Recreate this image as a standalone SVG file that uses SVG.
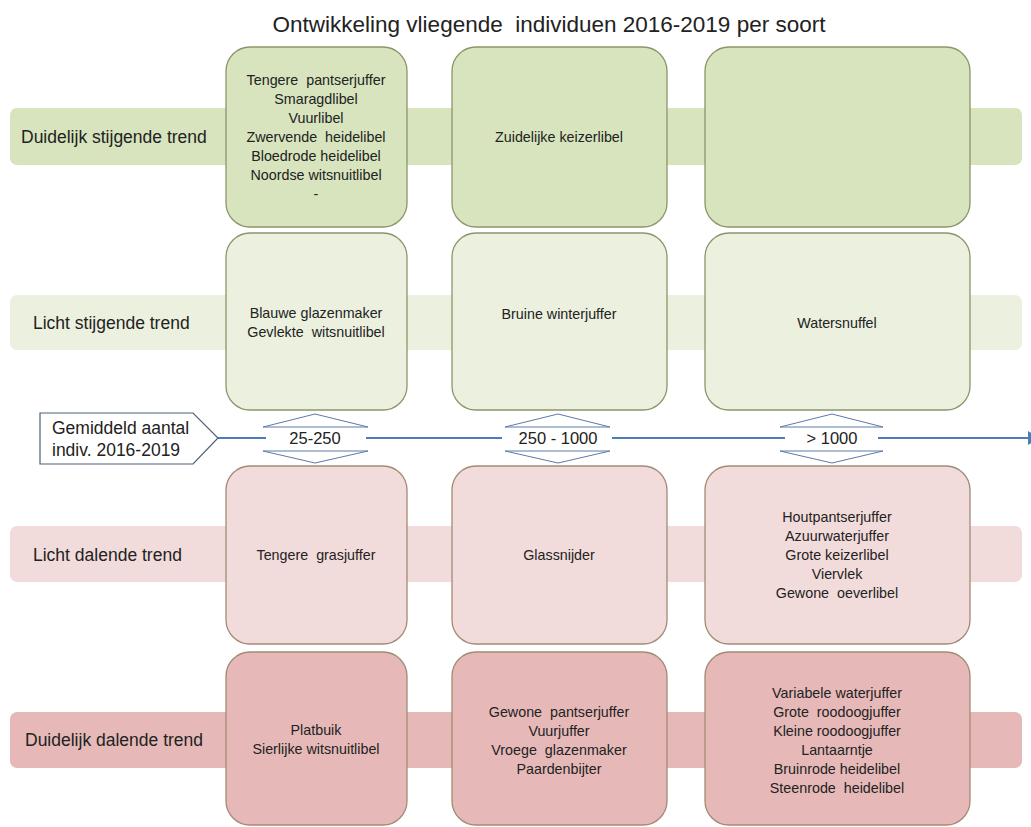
<svg xmlns="http://www.w3.org/2000/svg" width="1031" height="827" viewBox="0 0 1031 827">
<style>
text{font-family:"Liberation Sans",Arial,sans-serif;fill:#222;white-space:pre;}
.title{font-size:22.5px;text-anchor:middle;}
.lab{font-size:17.5px;}
.t{font-size:14.3px;text-anchor:middle;}
.hx{font-size:16.5px;text-anchor:middle;}
.band{stroke:none;}
.g1{fill:#d7e4bd;}
.g2{fill:#ebf1de;}
.r1{fill:#f2dcdb;}
.r2{fill:#e6b9b8;}
.bx{stroke-width:1.3;}
.bg{stroke:#8c956a;}
.br{stroke:#a28a74;}
.tri{fill:#fff;stroke:#5a7ba6;stroke-width:1;}
.cut{fill:#fff;stroke:none;}
</style>
<rect width="1031" height="827" fill="#fff"/>
<text class="title" x="549" y="32">Ontwikkeling vliegende  individuen 2016-2019 per soort</text>

<g id="bands">
<rect class="band g1" x="10" y="108" width="1012" height="57" rx="7"/>
<rect class="band g2" x="10" y="295" width="1012" height="55" rx="7"/>
<rect class="band r1" x="10" y="526" width="1012" height="56" rx="7"/>
<rect class="band r2" x="10" y="712" width="1012" height="56" rx="7"/>
</g>

<g id="row-labels">
<text class="lab" x="21" y="143">Duidelijk stijgende trend</text>
<text class="lab" x="33" y="329">Licht stijgende trend</text>
<text class="lab" x="33" y="561">Licht dalende trend</text>
<text class="lab" x="25" y="746">Duidelijk dalende trend</text>
</g>

<g id="connectors">
<line x1="218" y1="438" x2="1031" y2="438" stroke="#4a7ebb" stroke-width="2"/>
<polygon points="1028,431 1040,438 1028,445" fill="#4a7ebb"/>
</g>

<g id="axis-label">
<polygon points="40,413 193,413 218,438 193,464 40,464" fill="#fff" stroke="#4d6078" stroke-width="1.2"/>
<text class="lab" x="52" y="434">Gemiddeld aantal</text>
<text class="lab" x="52" y="456">indiv. 2016-2019</text>
</g>

<g id="class-25-250">
<rect class="cut" x="266" y="428" width="100" height="22"/>
<polygon class="tri" points="263,427 315,414 368,427"/>
<polygon class="tri" points="263,451 315,463 368,451"/>
<text class="hx" x="315" y="444">25-250</text>
</g>
<g id="class-250-1000">
<rect class="cut" x="502" y="428" width="110" height="22"/>
<polygon class="tri" points="505,427 558,414 610,427"/>
<polygon class="tri" points="505,451 558,463 610,451"/>
<text class="hx" x="558" y="444">250 - 1000</text>
</g>
<g id="class-1000">
<rect class="cut" x="785" y="428" width="93" height="22"/>
<polygon class="tri" points="780,427 832,414 883,427"/>
<polygon class="tri" points="780,451 832,463 883,451"/>
<text class="hx" x="832" y="444">&gt; 1000</text>
</g>

<g id="box-r1c1">
<rect class="bx g1 bg" x="226" y="47" width="181" height="180" rx="24"/>
<text class="t" x="316" y="85">Tengere  pantserjuffer</text>
<text class="t" x="316" y="104">Smaragdlibel</text>
<text class="t" x="316" y="123">Vuurlibel</text>
<text class="t" x="316" y="142">Zwervende  heidelibel</text>
<text class="t" x="316" y="161">Bloedrode heidelibel</text>
<text class="t" x="316" y="180">Noordse witsnuitlibel</text>
<text class="t" x="316" y="199">-</text>
</g>
<g id="box-r1c2">
<rect class="bx g1 bg" x="452" y="47" width="215" height="180" rx="24"/>
<text class="t" x="559" y="142">Zuidelijke keizerlibel</text>
</g>
<g id="box-r1c3">
<rect class="bx g1 bg" x="705" y="47" width="265" height="180" rx="24"/>
</g>

<g id="box-r2c1">
<rect class="bx g2 bg" x="226" y="233" width="181" height="177" rx="24"/>
<text class="t" x="316" y="318">Blauwe glazenmaker</text>
<text class="t" x="316" y="337">Gevlekte  witsnuitlibel</text>
</g>
<g id="box-r2c2">
<rect class="bx g2 bg" x="452" y="233" width="215" height="177" rx="24"/>
<text class="t" x="559" y="319">Bruine winterjuffer</text>
</g>
<g id="box-r2c3">
<rect class="bx g2 bg" x="705" y="233" width="265" height="177" rx="24"/>
<text class="t" x="837" y="328">Watersnuffel</text>
</g>

<g id="box-r3c1">
<rect class="bx r1 br" x="226" y="466" width="181" height="178" rx="24"/>
<text class="t" x="316" y="560">Tengere  grasjuffer</text>
</g>
<g id="box-r3c2">
<rect class="bx r1 br" x="452" y="466" width="215" height="178" rx="24"/>
<text class="t" x="559" y="560">Glassnijder</text>
</g>
<g id="box-r3c3">
<rect class="bx r1 br" x="705" y="466" width="265" height="178" rx="24"/>
<text class="t" x="837" y="522">Houtpantserjuffer</text>
<text class="t" x="837" y="541">Azuurwaterjuffer</text>
<text class="t" x="837" y="560">Grote keizerlibel</text>
<text class="t" x="837" y="579">Viervlek</text>
<text class="t" x="837" y="598">Gewone  oeverlibel</text>
</g>

<g id="box-r4c1">
<rect class="bx r2 br" x="226" y="652" width="181" height="173" rx="24"/>
<text class="t" x="316" y="735">Platbuik</text>
<text class="t" x="316" y="754">Sierlijke witsnuitlibel</text>
</g>
<g id="box-r4c2">
<rect class="bx r2 br" x="452" y="652" width="215" height="173" rx="24"/>
<text class="t" x="559" y="717">Gewone  pantserjuffer</text>
<text class="t" x="559" y="736">Vuurjuffer</text>
<text class="t" x="559" y="755">Vroege  glazenmaker</text>
<text class="t" x="559" y="774">Paardenbijter</text>
</g>
<g id="box-r4c3">
<rect class="bx r2 br" x="705" y="652" width="265" height="173" rx="24"/>
<text class="t" x="837" y="698">Variabele waterjuffer</text>
<text class="t" x="837" y="717">Grote  roodoogjuffer</text>
<text class="t" x="837" y="736">Kleine roodoogjuffer</text>
<text class="t" x="837" y="755">Lantaarntje</text>
<text class="t" x="837" y="774">Bruinrode heidelibel</text>
<text class="t" x="837" y="793">Steenrode  heidelibel</text>
</g>
</svg>
